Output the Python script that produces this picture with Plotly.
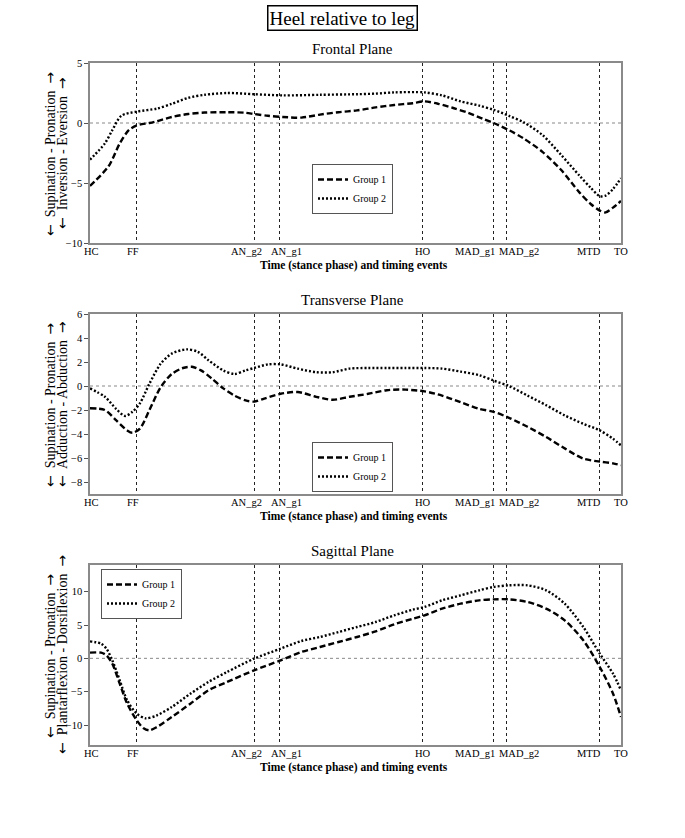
import plotly.graph_objects as go

# ---------------- data ----------------
event_pos = [0, 8.7, 30.9, 35.6, 62.7, 75.9, 78.5, 95.9, 100]
event_labels = ["HC", "FF", "AN_g2", "AN_g1", "HO", "MAD_g1", "MAD_g2", "MTD", "TO"]

frontal_g1_x = [0, 3.5, 5.6, 7.3, 8.8, 11.2, 12.6, 15.4, 18.5, 21.6, 25.8, 29.3, 30.9, 33.5, 36.3,
                39.8, 43.3, 46.8, 50.3, 53.8, 57.3, 60.8, 63.0, 65.6, 68.4, 71.2, 74.0, 76.0, 78.9,
                81.7, 85.2, 88.7, 92.2, 94.3, 96.0, 97.1, 98.5, 100]
frontal_g1_y = [-5.25, -3.6, -1.7, -0.6, -0.2, 0.0, 0.15, 0.5, 0.75, 0.87, 0.9, 0.85, 0.75, 0.6, 0.5,
                0.45, 0.7, 0.9, 1.05, 1.3, 1.5, 1.65, 1.8, 1.6, 1.25, 0.85, 0.35, 0.0, -0.6,
                -1.3, -2.4, -3.9, -5.8, -6.75, -7.3, -7.45, -7.05, -6.5]
frontal_g2_x = [0, 2.8, 4.2, 5.9, 8.8, 12.6, 15.4, 18.5, 21.6, 25.8, 30.9, 36.3, 43.3, 50.3, 53.8,
                57.3, 63.0, 66.3, 69.8, 73.3, 76.0, 78.9, 81.7, 85.2, 88.7, 92.2, 94.3, 96.0, 97.1,
                98.5, 100]
frontal_g2_y = [-3.05, -1.7, -0.6, 0.6, 0.95, 1.2, 1.6, 2.1, 2.35, 2.5, 2.4, 2.3, 2.35, 2.4, 2.45,
                2.55, 2.55, 2.3, 1.8, 1.45, 1.1, 0.6, 0.05, -1.0, -2.65, -4.4, -5.4, -6.1, -6.05,
                -5.5, -4.6]

transverse_g1_x = [0, 2.8, 4.9, 7.0, 8.0, 9.4, 11.2, 13.3, 15.4, 17.5, 19.2, 20.9, 23.0, 25.1, 27.2,
                   29.3, 30.9, 32.8, 35.9, 39.1, 42.6, 45.7, 48.9, 52.4, 55.9, 59.4, 63.0, 66.3,
                   69.8, 73.3, 76.0, 78.9, 82.4, 85.9, 89.4, 92.9, 96.0, 98.5, 100]
transverse_g1_y = [-1.85, -2.0, -2.85, -3.7, -3.9, -3.55, -2.0, -0.1, 1.0, 1.5, 1.6, 1.3, 0.6, -0.2,
                   -0.8, -1.2, -1.3, -1.05, -0.65, -0.5, -0.9, -1.15, -0.9, -0.65, -0.35, -0.3,
                   -0.45, -0.8, -1.35, -1.9, -2.15, -2.65, -3.4, -4.25, -5.2, -6.05, -6.3, -6.45, -6.6]
transverse_g2_x = [0, 2.8, 4.9, 6.6, 8.0, 9.4, 11.2, 13.3, 15.4, 18.2, 20.3, 22.3, 25.1, 27.2, 29.3,
                   30.9, 33.5, 35.9, 39.1, 42.6, 45.7, 48.9, 52.4, 55.9, 59.4, 63.0, 66.3, 69.8,
                   73.3, 76.0, 78.9, 82.4, 85.9, 89.4, 92.9, 96.0, 98.5, 100]
transverse_g2_y = [-0.2, -0.9, -1.9, -2.5, -2.15, -1.45, 0.2, 1.85, 2.7, 3.05, 2.85, 2.15, 1.3, 1.0,
                   1.3, 1.5, 1.8, 1.8, 1.45, 1.15, 1.15, 1.45, 1.5, 1.5, 1.5, 1.5, 1.45, 1.2, 0.9,
                   0.45, 0.0, -0.8, -1.6, -2.45, -3.15, -3.7, -4.4, -4.95]

sagittal_g1_x = [0, 2.1, 3.1, 4.2, 5.6, 7.0, 8.8, 10.1, 11.2, 12.6, 15.4, 18.9, 22.3, 25.8, 30.9,
                 35.9, 39.8, 43.3, 46.8, 50.3, 53.8, 57.3, 60.8, 63.0, 66.3, 69.8, 73.3, 76.0, 78.9,
                 82.4, 85.9, 89.4, 92.9, 96.0, 98.5, 100]
sagittal_g1_y = [0.85, 0.85, 0.45, -0.8, -3.8, -6.8, -9.3, -10.5, -10.8, -10.3, -8.8, -6.8, -4.8,
                 -3.55, -1.8, -0.3, 0.95, 1.7, 2.45, 3.2, 4.05, 5.1, 5.95, 6.45, 7.45, 8.2, 8.7,
                 8.85, 8.85, 8.45, 7.45, 5.7, 2.7, -1.3, -5.3, -8.8]
sagittal_g2_x = [0, 2.1, 3.1, 4.2, 5.6, 7.0, 8.8, 10.5, 12.6, 15.4, 18.9, 22.3, 25.8, 30.9, 35.9,
                 39.8, 43.3, 46.8, 50.3, 53.8, 57.3, 60.8, 63.0, 66.3, 69.8, 73.3, 76.0, 78.9, 82.4,
                 85.9, 89.4, 92.9, 96.0, 98.5, 100]
sagittal_g2_y = [2.55, 2.2, 1.45, -0.3, -3.3, -6.3, -8.3, -9.0, -8.55, -7.3, -5.3, -3.55, -2.05,
                 -0.05, 1.45, 2.6, 3.2, 3.95, 4.7, 5.45, 6.45, 7.3, 7.7, 8.7, 9.45, 10.2, 10.7,
                 10.95, 10.95, 10.2, 8.2, 4.7, 0.7, -2.3, -4.8]

series_names = ["Group 1", "Group 2"]
panel_titles = ["Frontal Plane", "Transverse Plane", "Sagittal Plane"]
ylabel_line1 = ["Supination - Pronation"] * 3
ylabel_line2 = ["Inversion - Eversion", "Adduction - Abduction", "Plantarflexion - Dorsiflexion"]
xlabel = "Time (stance phase) and timing events"
main_title = "Heel relative to leg"

y_ranges = [[-10, 5], [-9, 6], [-13, 14]]
y_ticks = [[-10, -5, 0, 5], [-8, -6, -4, -2, 0, 2, 4, 6], [-10, -5, 0, 5, 10]]

panels = [
    (frontal_g1_x, frontal_g1_y, frontal_g2_x, frontal_g2_y),
    (transverse_g1_x, transverse_g1_y, transverse_g2_x, transverse_g2_y),
    (sagittal_g1_x, sagittal_g1_y, sagittal_g2_x, sagittal_g2_y),
]

# ---------------- styling / geometry ----------------
W, H = 685, 838
FONT = "Liberation Serif, Times New Roman, serif"
ARROW_FONT = "DejaVu Sans"
label_xshift = [1.5, -3.5, -8, 7, 0, -18, 12, -10, 0]
x_dom = [90 / W, 621 / W]
y_px = [(63, 243), (314, 494), (565, 745)]
y_doms = [[1 - b / H, 1 - t / H] for t, b in y_px]
legend_pos = [(312 / W, 1 - 189 / H, "middle"),
              (312 / W, 1 - 492 / H, "bottom"),
              (101 / W, 1 - 569 / H, "top")]


def arrow(ch):
    return '<span style="font-family:%s">%s</span>' % (ARROW_FONT, ch)


fig = go.Figure()
annotations = []
shapes = []
layout = dict(
    width=W, height=H,
    margin=dict(l=0, r=0, t=0, b=0, autoexpand=False),
    paper_bgcolor="white", plot_bgcolor="white",
    font=dict(family=FONT, color="black", size=10),
)

for i, (gx1, gy1, gx2, gy2) in enumerate(panels):
    n = "" if i == 0 else str(i + 1)
    xa, ya, lg = "x" + n, "y" + n, "legend" + n
    fig.add_trace(go.Scatter(x=gx1, y=gy1, mode="lines", name=series_names[0],
                             line=dict(color="black", width=2.4, dash="6px,3px", shape="spline", smoothing=0.8),
                             xaxis=xa, yaxis=ya, legend=lg))
    fig.add_trace(go.Scatter(x=gx2, y=gy2, mode="lines", name=series_names[1],
                             line=dict(color="black", width=2.4, dash="2px,2px", shape="spline", smoothing=0.8),
                             xaxis=xa, yaxis=ya, legend=lg))

    layout["xaxis" + n] = dict(
        domain=x_dom, anchor=ya, range=[0, 100],
        tickmode="array", tickvals=event_pos, showticklabels=False,
        showgrid=True, gridcolor="#222222", griddash="dot", gridwidth=1,
        showline=True, linecolor="#8a8a8a", linewidth=1.5, mirror=True,
        ticks="", zeroline=False, automargin=False,
    )
    layout["yaxis" + n] = dict(
        domain=y_doms[i], anchor=xa, range=y_ranges[i],
        tickmode="array", tickvals=y_ticks[i],
        showgrid=False, zeroline=False, automargin=False,
        showline=True, linecolor="#8a8a8a", linewidth=1.5, mirror=True,
        ticks="outside", ticklen=4, tickcolor="#555555",
        tickfont=dict(size=10.5, family=FONT),
    )
    lx, ly, lanchor = legend_pos[i]
    layout[lg] = dict(
        x=lx, y=ly, xanchor="left", yanchor=lanchor,
        bgcolor="white", bordercolor="#555555", borderwidth=1,
        font=dict(size=10, family=FONT), tracegroupgap=0,
    )
    shapes.append(dict(type="line", xref=xa + " domain", yref=ya, x0=0, x1=1, y0=0, y1=0,
                       line=dict(color="#888888", width=1, dash="dot"), layer="below"))

    top, bot = y_px[i]
    mid = (top + bot) / 2
    # event tick labels
    for pos, lab, dx in zip(event_pos, event_labels, label_xshift):
        annotations.append(dict(text=lab, x=pos, xref=xa, y=1 - (bot + 8) / H, yref="paper",
                                showarrow=False, xshift=dx, xanchor="center", yanchor="middle",
                                font=dict(size=10.5, family=FONT)))
    # panel title
    annotations.append(dict(text=panel_titles[i], x=353 / W, y=1 - (top - 14) / H,
                            xref="paper", yref="paper", showarrow=False,
                            font=dict(size=15, family=FONT), xanchor="center", yanchor="middle"))
    # x label
    annotations.append(dict(text="<b>" + xlabel + "</b>", x=353.5 / W, y=1 - (bot + 22) / H,
                            xref="paper", yref="paper", showarrow=False,
                            font=dict(size=11.5, family=FONT), xanchor="center", yanchor="middle"))
    # y label (two lines)
    for txt, xp in ((ylabel_line1[i], 50), (ylabel_line2[i], 62)):
        annotations.append(dict(text=arrow("←") + "  " + txt + "  " + arrow("→"),
                                x=xp / W, y=1 - mid / H,
                                xref="paper", yref="paper", showarrow=False, textangle=-90,
                                font=dict(size=14, family=FONT), xanchor="center", yanchor="middle"))

annotations.append(dict(text=main_title, x=342 / W, y=1 - 18 / H, xref="paper", yref="paper",
                        showarrow=False, font=dict(size=19, family=FONT),
                        bordercolor="black", borderwidth=1.5, borderpad=1,
                        xanchor="center", yanchor="middle"))

layout["annotations"] = annotations
layout["shapes"] = shapes
fig.update_layout(**layout)

fig.write_html("out.html", config={"displayModeBar": False},
               post_script="document.body.style.margin='0';document.body.style.overflow='hidden';")
